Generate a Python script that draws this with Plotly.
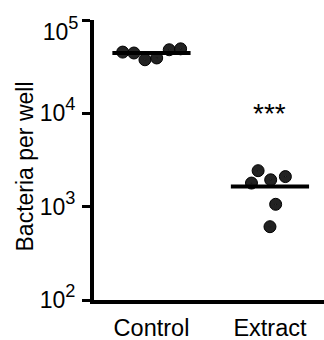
import math
import plotly.graph_objects as go

categories = ["Control", "Extract"]
control_values = [45300, 44300, 37500, 39200, 48000, 49100]
extract_values = [2430, 1790, 1940, 2100, 1060, 610]
control_jitter = [-0.243, -0.148, -0.055, 0.044, 0.150, 0.246]
extract_jitter = [-0.10, -0.156, 0.006, 0.13, 0.048, 0.0]
medians = [44300, 1640]
significance = ["", "***"]
sig_y = [None, 11000]
y_title = "Bacteria per well"
y_tickvals = [100, 1000, 10000, 100000]
y_exponents = [2, 3, 4, 5]


def power_label(e):
    return '10<span style="font-size:26px"><sup>%d</sup></span>' % e


fig = go.Figure()

groups = [control_values, extract_values]
jitters = [control_jitter, extract_jitter]
for i, (vals, jit) in enumerate(zip(groups, jitters)):
    fig.add_trace(go.Scatter(
        x=[i + j for j in jit], y=vals, mode="markers",
        marker=dict(symbol="circle-dot", size=12, color="#222222",
                    line=dict(color="#000000", width=1)),
        showlegend=False, hoverinfo="y"))

for i, m in enumerate(medians):
    fig.add_trace(go.Scatter(
        x=[i - 0.33, i + 0.33], y=[m, m], mode="lines",
        line=dict(color="black", width=4), showlegend=False, hoverinfo="skip"))

# invisible trace on the secondary axis so it gets drawn
fig.add_trace(go.Scatter(x=[0], y=[y_tickvals[-1]], yaxis="y2", mode="markers",
                         marker=dict(opacity=0), showlegend=False, hoverinfo="skip"))

for i, (s, yv) in enumerate(zip(significance, sig_y)):
    if s:
        fig.add_annotation(x=i, y=math.log10(yv), yref="y", xref="x", text=s, showarrow=False,
                           font=dict(size=28, color="black", family="Liberation Sans, Arial"),
                           yanchor="middle", xanchor="center", yshift=-4)

fig.add_annotation(x=-0.30, y=0.4768, xref="paper", yref="paper", text=y_title,
                   textangle=-90, showarrow=False, xanchor="center", yanchor="middle",
                   font=dict(size=23, color="black", family="Liberation Sans, Arial"))

common_y = dict(type="log", range=[2, 5], showgrid=False, zeroline=False,
                tickfont=dict(size=23), ticklabelstandoff=2)

fig.update_layout(
    width=324, height=340,
    margin=dict(l=94, r=0, t=20, b=40),
    plot_bgcolor="white", paper_bgcolor="white",
    font=dict(family="Liberation Sans, Arial", color="black"),
    xaxis=dict(
        range=[-0.485, 1.456], tickmode="array", tickvals=[0, 1], ticktext=categories,
        showline=True, linecolor="black", linewidth=4, ticks="", showgrid=False,
        zeroline=False, tickfont=dict(size=23.5), ticklabelstandoff=4,
    ),
    yaxis=dict(
        tickmode="array", tickvals=y_tickvals,
        ticktext=[power_label(e) for e in y_exponents[:-1]] + [""],
        showline=True, linecolor="black", linewidth=4,
        ticks="outside", ticklen=8, tickwidth=3, tickcolor="black",
        **common_y,
    ),
    yaxis2=dict(
        overlaying="y", side="left", tickmode="array", tickvals=y_tickvals[-1:],
        ticktext=[power_label(y_exponents[-1])],
        showline=False, ticks="outside", ticklen=8, tickwidth=3, tickcolor="rgba(0,0,0,0)",
        ticklabelshift=12,
        **common_y,
    ),
)

fig.write_html("out.html")
